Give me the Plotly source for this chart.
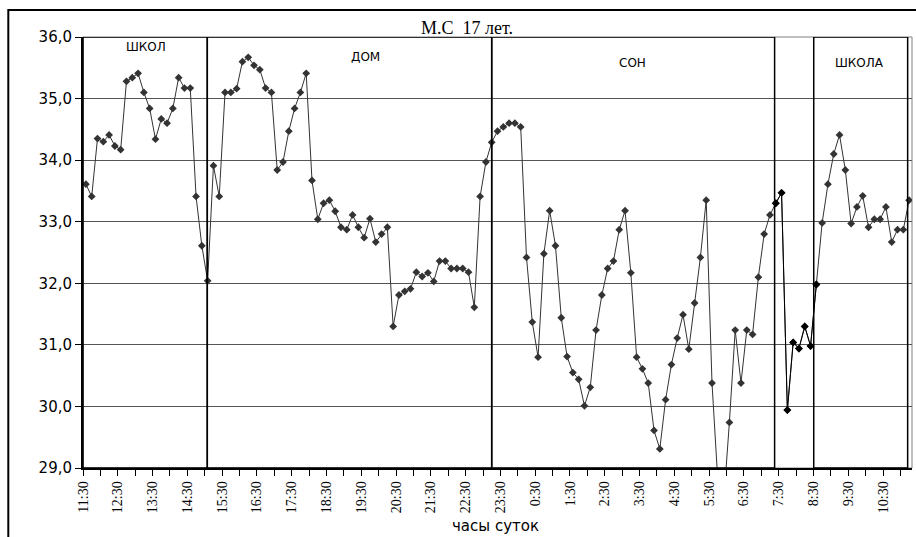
import plotly.graph_objects as go

# ---- data ----
temperature = [
    33.61, 33.41, 34.35, 34.30, 34.41, 34.23, 34.17, 35.28, 35.34, 35.41,
    35.10, 34.84, 34.34, 34.67, 34.60, 34.84, 35.34, 35.17, 35.17, 33.41,
    32.61, 32.04, 33.91, 33.41, 35.10, 35.10, 35.16, 35.60, 35.67, 35.54,
    35.47, 35.17, 35.10, 33.84, 33.97, 34.47, 34.84, 35.10, 35.41, 33.67,
    33.04, 33.30, 33.35, 33.17, 32.91, 32.87, 33.11, 32.91, 32.74, 33.05,
    32.67, 32.80, 32.91, 31.30, 31.81, 31.87, 31.91, 32.18, 32.11, 32.17,
    32.03, 32.36, 32.36, 32.24, 32.24, 32.24, 32.18, 31.61, 33.41, 33.97,
    34.29, 34.47, 34.54, 34.60, 34.60, 34.54, 32.42, 31.37, 30.80, 32.48,
    33.18, 32.61, 31.44, 30.81, 30.55, 30.44, 30.01, 30.31, 31.24, 31.81,
    32.24, 32.36, 32.87, 33.18, 32.17, 30.80, 30.61, 30.38, 29.61, 29.31,
    30.11, 30.68, 31.11, 31.49, 30.93, 31.68, 32.42, 33.35, 30.38, 28.80,
    28.44, 29.74, 31.24, 30.38, 31.24, 31.17, 32.10, 32.80, 33.11, 33.30,
    33.47, 29.94, 31.04, 30.94, 31.30, 30.98, 31.98, 32.98, 33.61, 34.10,
    34.41, 33.84, 32.97, 33.24, 33.42, 32.91, 33.04, 33.04, 33.24, 32.67,
    32.87, 32.87, 33.35,
]
hour_labels = ["11:30", "12:30", "13:30", "14:30", "15:30", "16:30", "17:30",
               "18:30", "19:30", "20:30", "21:30", "22:30", "23:30", "0:30",
               "1:30", "2:30", "3:30", "4:30", "5:30", "6:30", "7:30", "8:30",
               "9:30", "10:30"]
y_values = [29, 30, 31, 32, 33, 34, 35, 36]
y_labels = ["29,0", "30,0", "31,0", "32,0", "33,0", "34,0", "35,0", "36,0"]
period_names = ["ШКОЛ", "ДОМ", "СОН", "ШКОЛА"]
period_bounds = [(-0.5, 20.94), (20.94, 70.0), (70.0, 118.8), (125.55, 141.75)]
label_pos = [(10.4, 35.83), (48.3, 35.68), (94.2, 35.57), (133.4, 35.57)]
highlight_range = (119, 127)  # segment drawn in black

n = len(temperature)
xs = list(range(n))

fig = go.Figure()
fig.add_trace(go.Scatter(
    x=xs, y=temperature, mode="lines+markers",
    line=dict(color="#333333", width=1),
    marker=dict(symbol="diamond", size=6, color="#333333"),
    showlegend=False, hoverinfo="skip"))
a, b = highlight_range
fig.add_trace(go.Scatter(
    x=xs[a:b], y=temperature[a:b], mode="lines+markers",
    line=dict(color="#000000", width=1),
    marker=dict(symbol="diamond", size=6, color="#000000"),
    showlegend=False, hoverinfo="skip"))

shapes = []
# period boxes
for (x0, x1) in period_bounds:
    shapes.append(dict(type="rect", xref="x", yref="y", x0=x0, x1=x1,
                       y0=y_values[0], y1=y_values[-1],
                       line=dict(color="black", width=1.5), layer="above"))
# plot-area border (grey)
shapes.append(dict(type="rect", xref="paper", yref="paper", x0=0, x1=1, y0=0, y1=1,
                   line=dict(color="#808080", width=1), layer="below"))
# outer chart border (clipped by page on right/bottom)
shapes.append(dict(type="rect", xref="paper", yref="paper",
                   x0=-0.0901, x1=1.02, y0=-0.25, y1=1.0626,
                   line=dict(color="black", width=2), layer="below"))

annotations = []
for name, (lx, ly) in zip(period_names, label_pos):
    annotations.append(dict(x=lx, y=ly, xref="x", yref="y", text=name,
                            showarrow=False, xanchor="center", yanchor="middle",
                            font=dict(family="DejaVu Sans", size=12, color="black")))
annotations.append(dict(x=0.463, y=1.0209, xref="paper", yref="paper",
                        text="М.С\u00a0\u00a017 лет.", showarrow=False,
                        xanchor="center", yanchor="middle",
                        font=dict(family="Liberation Serif", size=18, color="black")))
annotations.append(dict(x=0.4976, y=-0.134, xref="paper", yref="paper",
                        text="часы суток", showarrow=False,
                        xanchor="center", yanchor="middle",
                        font=dict(family="DejaVu Sans", size=15, color="black")))

fig.update_layout(
    width=916, height=537,
    margin=dict(l=83, r=4, t=37, b=69),
    paper_bgcolor="white", plot_bgcolor="white",
    shapes=shapes, annotations=annotations,
    xaxis=dict(
        range=[-0.5, n - 0.5], showgrid=False, zeroline=False,
        tickmode="array",
        tickvals=[-0.5 + 6 * k for k in range(len(hour_labels))],
        ticktext=hour_labels, tickangle=-90,
        ticks="outside", ticklen=6, tickcolor="black", tickwidth=1,
        tickfont=dict(family="Liberation Serif", size=14, color="black"),
        showline=True, linecolor="black", linewidth=1.5,
        minor=dict(tickmode="array",
                   tickvals=[-0.5 + 3 * k for k in range(2 * len(hour_labels))],
                   ticks="outside", ticklen=6, tickcolor="black", tickwidth=1),
    ),
    yaxis=dict(
        range=[y_values[0], y_values[-1]], tickmode="array",
        tickvals=y_values, ticktext=y_labels,
        showgrid=True, gridcolor="#555555", gridwidth=1, zeroline=False,
        ticks="outside", ticklen=6, tickcolor="black",
        tickfont=dict(family="DejaVu Sans", size=15, color="black"),
        showline=True, linecolor="black", linewidth=2,
    ),
)

fig.write_html("out.html", config={"displayModeBar": False},
               post_script="document.body.style.margin='0';document.body.style.overflow='hidden';")
